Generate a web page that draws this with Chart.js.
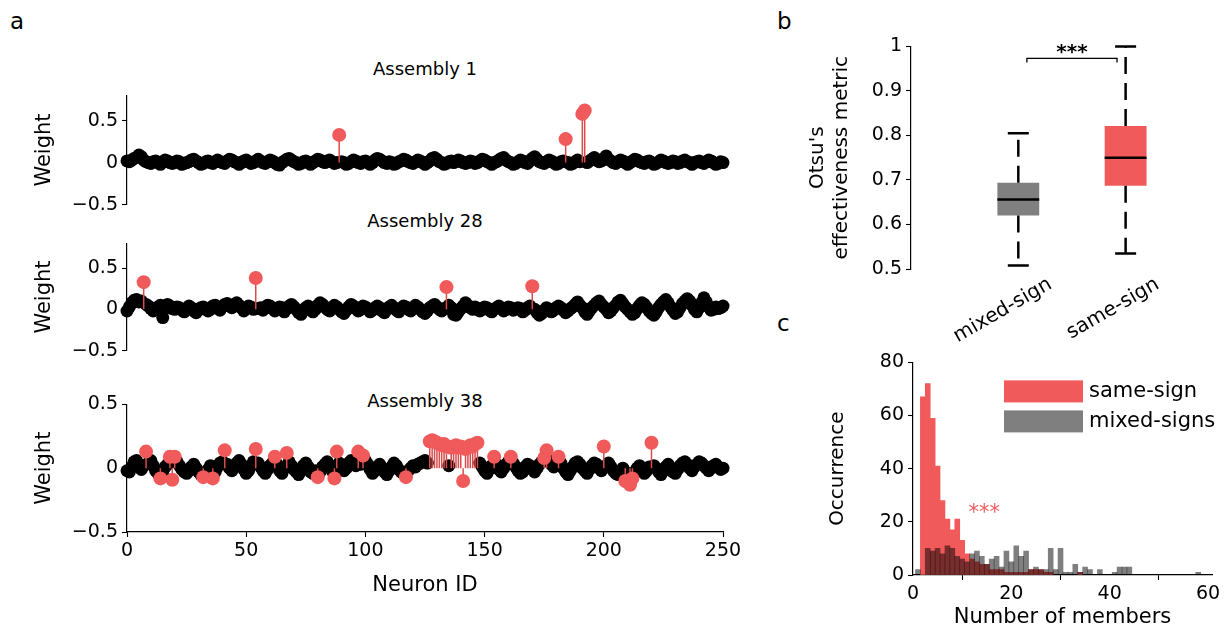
<!DOCTYPE html>
<html lang="en">
<head>
<meta charset="UTF-8">
<title>Assembly weights</title>
<script src="https://cdn.jsdelivr.net/npm/chart.js"></script>
<style>
  body { margin: 0; background: #fff; font-family: "DejaVu Sans", sans-serif; }
  #fig { position: relative; width: 1230px; height: 634px; overflow: hidden; }
  .box { position: absolute; }
  .lbl { position: absolute; color: #000; white-space: nowrap; line-height: 1; }
  .ttl { left: 225px; width: 400px; text-align: center; font-size: 18px; }
</style>
</head>
<body>
<div id="fig">
  <div class="lbl" style="left:10px;top:10px;font-size:23px">a</div>
  <div class="lbl" style="left:777px;top:10px;font-size:23px">b</div>
  <div class="lbl" style="left:777px;top:312px;font-size:23px">c</div>
  <div class="lbl ttl" style="top:60px">Assembly 1</div>
  <div class="lbl ttl" style="top:212px">Assembly 28</div>
  <div class="lbl ttl" style="top:392px">Assembly 38</div>

  <div class="box" style="left:28px;top:80px;width:732px;height:140px"><canvas id="a1"></canvas></div>
  <div class="box" style="left:28px;top:228px;width:732px;height:138px"><canvas id="a28"></canvas></div>
  <div class="box" style="left:28px;top:389px;width:732px;height:213px"><canvas id="a38"></canvas></div>
  <div class="box" style="left:802px;top:31px;width:428px;height:318px"><canvas id="otsu"></canvas></div>
  <div class="box" style="left:822px;top:347px;width:408px;height:287px"><canvas id="hist"></canvas></div>
</div>

<script>
  // ---- panel a: neuron weights per assembly (index = neuron ID) ----
  const weightsA1 = [
    0.02, 0.01, 0.03, 0.05, 0.06, 0.09, 0.07, 0.03, 0.01, 0.00, -0.01, 0.01, 0.02, 0.00, -0.02, 0.01, 0.03, 0.02, 0.00, -0.01,
    0.00, 0.02, 0.01, -0.02, -0.01, 0.00, 0.01, 0.03, 0.04, 0.02, 0.00, -0.02, -0.01, 0.01, 0.02, 0.00, -0.01, 0.01, 0.03, 0.01,
    0.00, -0.01, 0.02, 0.04, 0.03, 0.01, 0.00, -0.02, 0.00, 0.02, 0.03, 0.01, -0.01, 0.00, 0.02, 0.04, 0.02, 0.00, -0.01, 0.01,
    0.03, 0.02, 0.00, -0.02, -0.03, 0.00, 0.02, 0.04, 0.05, 0.03, 0.01, 0.00, -0.02, -0.01, 0.01, 0.02, 0.00, -0.02, 0.00, 0.02,
    0.04, 0.03, 0.01, 0.00, 0.02, 0.03, 0.01, -0.01, 0.00, 0.33, 0.01, 0.00, -0.02, -0.01, 0.01, 0.03, 0.02, 0.00, -0.01, 0.01,
    0.02, 0.00, -0.02, 0.00, 0.03, 0.05, 0.04, 0.02, 0.00, -0.01, 0.01, 0.00, -0.02, -0.01, 0.01, 0.02, 0.04, 0.03, 0.01, 0.00,
    -0.01, 0.01, 0.03, 0.02, 0.00, -0.02, 0.00, 0.02, 0.05, 0.06, 0.04, 0.01, 0.00, -0.02, -0.01, 0.01, 0.02, 0.00, 0.01, 0.03,
    0.02, 0.00, -0.01, 0.00, 0.02, 0.01, -0.01, 0.00, 0.02, 0.04, 0.03, 0.01, 0.00, -0.02, 0.00, 0.01, 0.03, 0.05, 0.06, 0.03,
    0.01, 0.00, -0.02, -0.01, 0.01, 0.03, 0.02, 0.00, -0.01, 0.02, 0.05, 0.07, 0.04, 0.01, 0.00, -0.01, 0.01, 0.03, 0.02, 0.00,
    -0.02, -0.01, 0.01, 0.02, 0.28, 0.00, -0.02, -0.01, 0.01, 0.03, 0.01, 0.58, 0.62, 0.00, 0.02, 0.04, 0.06, 0.03, 0.01, 0.02,
    0.05, 0.08, 0.04, 0.02, 0.00, -0.01, 0.01, 0.03, 0.02, 0.00, -0.02, 0.00, 0.02, 0.04, 0.03, 0.01, 0.00, -0.01, 0.01, 0.02,
    0.00, -0.02, -0.01, 0.01, 0.03, 0.02, 0.00, -0.01, 0.00, 0.02, 0.01, -0.01, 0.00, 0.02, 0.03, 0.01, 0.00, -0.02, 0.00, 0.01,
    0.02, 0.00, -0.01, 0.01, 0.03, 0.02, 0.00, -0.02, -0.01, 0.01, 0.00, 0.01
  ];
  const membersA1 = [89, 184, 191, 192];

  const weightsA28 = [
    -0.02, 0.03, 0.08, 0.11, 0.12, 0.09, 0.10, 0.33, 0.06, 0.04, 0.01, -0.02, 0.00, 0.03, 0.05, -0.10, 0.02, 0.06, 0.04, 0.01,
    0.00, 0.03, 0.02, -0.01, -0.03, 0.01, 0.04, 0.02, -0.02, -0.04, -0.01, 0.02, 0.03, 0.01, -0.02, 0.00, 0.04, 0.05, 0.02, -0.01,
    0.03, 0.06, 0.07, 0.05, 0.02, 0.06, 0.08, 0.05, 0.02, -0.02, 0.01, 0.04, 0.03, 0.00, 0.38, 0.01, 0.02, -0.01, 0.03, 0.05,
    0.04, 0.01, -0.02, 0.00, 0.03, 0.02, -0.03, 0.01, 0.04, 0.06, 0.03, 0.00, -0.04, -0.06, -0.02, 0.02, 0.04, 0.01, -0.03, 0.00,
    0.05, 0.08, 0.06, 0.03, 0.00, -0.02, 0.02, 0.05, 0.03, 0.00, -0.03, -0.05, -0.01, 0.03, 0.06, 0.04, 0.01, -0.02, 0.00, 0.04,
    0.03, 0.00, -0.03, -0.01, 0.02, 0.04, 0.02, -0.02, -0.04, 0.00, 0.03, 0.05, 0.02, -0.01, -0.03, 0.01, 0.04, 0.03, 0.00, -0.02,
    0.01, 0.05, 0.03, 0.00, -0.03, -0.05, -0.02, 0.02, 0.04, 0.06, 0.03, 0.00, -0.02, 0.01, 0.27, 0.05, 0.02, -0.06, -0.07, -0.03,
    0.01, 0.04, 0.08, 0.05, 0.02, 0.00, 0.03, 0.01, -0.02, 0.00, 0.03, 0.02, -0.01, -0.03, 0.00, 0.02, 0.04, 0.01, -0.02, 0.00,
    0.03, 0.02, -0.01, 0.00, 0.02, 0.01, -0.03, -0.01, 0.02, 0.04, 0.28, 0.00, -0.04, -0.07, -0.05, -0.01, 0.02, 0.00, -0.03, -0.01,
    0.02, 0.04, 0.02, -0.01, -0.04, -0.02, 0.01, 0.03, 0.06, 0.09, 0.05, 0.02, -0.03, -0.06, -0.02, 0.02, 0.05, 0.08, 0.10, 0.06,
    0.03, 0.00, -0.04, -0.02, 0.02, 0.05, 0.09, 0.11, 0.07, 0.03, 0.00, -0.03, -0.06, -0.04, 0.01, 0.05, 0.08, 0.06, 0.02, -0.02,
    -0.05, -0.07, -0.03, 0.02, 0.06, 0.09, 0.12, 0.08, 0.03, -0.01, -0.05, -0.03, 0.02, 0.07, 0.10, 0.13, 0.10, 0.05, 0.00, -0.03,
    0.02, 0.08, 0.14, 0.09, 0.03, -0.01, 0.00, 0.03, 0.01, 0.02, 0.04, 0.03
  ];
  const membersA28 = [7, 54, 134, 170];

  const weightsA38 = [
    -0.02, -0.03, 0.01, 0.05, 0.06, 0.03, -0.01, 0.02, 0.13, 0.04, 0.06, 0.02, -0.02, -0.04, -0.08, -0.03, 0.01, 0.03, 0.09, -0.09,
    0.09, 0.05, 0.02, -0.01, -0.03, -0.04, -0.02, 0.01, 0.03, 0.00, -0.03, -0.05, -0.07, -0.04, -0.01, 0.02, -0.08, -0.03, 0.01, 0.04,
    0.05, 0.14, 0.03, 0.00, -0.02, 0.01, 0.04, 0.06, 0.03, -0.01, -0.04, -0.02, 0.02, 0.05, 0.15, 0.04, 0.01, -0.02, -0.04, -0.01,
    0.02, 0.04, 0.09, 0.03, -0.02, -0.04, 0.00, 0.12, 0.05, 0.02, -0.01, -0.03, -0.05, -0.02, 0.02, 0.04, 0.01, -0.03, -0.04, -0.02,
    -0.07, -0.03, 0.01, 0.03, 0.05, 0.02, -0.02, -0.08, 0.13, 0.04, 0.01, -0.02, 0.00, 0.04, 0.06, 0.05, 0.02, 0.13, 0.03, 0.10,
    0.06, 0.03, -0.01, -0.04, -0.02, 0.01, 0.03, 0.00, -0.03, -0.05, -0.02, 0.01, 0.04, 0.02, -0.01, -0.03, -0.04, -0.07, -0.02, 0.00,
    0.02, 0.01, 0.03, 0.04, 0.05, 0.06, 0.04, 0.21, 0.22, 0.21, 0.20, 0.19, 0.18, 0.19, 0.17, 0.02, 0.16, 0.17, 0.18, 0.16,
    0.17, -0.10, 0.15, 0.16, 0.18, 0.17, 0.19, 0.20, 0.04, 0.01, -0.02, -0.04, -0.01, 0.02, 0.09, 0.03, -0.01, -0.03, 0.00, 0.03,
    0.05, 0.09, 0.04, 0.01, -0.02, -0.04, -0.03, 0.01, 0.03, 0.02, -0.01, -0.03, 0.00, 0.03, 0.05, 0.08, 0.14, 0.06, 0.03, 0.01,
    0.02, 0.09, 0.04, 0.00, -0.03, -0.05, -0.02, 0.01, 0.04, 0.05, 0.03, 0.00, -0.02, -0.04, -0.01, 0.02, 0.04, 0.03, 0.00, -0.02,
    0.17, 0.02, 0.04, 0.01, -0.02, -0.04, -0.05, -0.03, 0.00, -0.10, -0.04, -0.13, -0.08, -0.03, 0.00, 0.02, -0.01, -0.04, -0.02, 0.01,
    0.20, 0.02, 0.00, -0.03, -0.05, -0.02, 0.01, 0.03, 0.00, -0.03, -0.04, -0.01, 0.02, 0.04, 0.05, 0.03, 0.00, -0.02, 0.01, 0.03,
    0.05, 0.04, 0.02, 0.00, -0.02, 0.00, 0.02, 0.03, 0.01, -0.01, 0.00, 0.01
  ];
  const membersA38 = [8, 14, 18, 19, 20, 32, 36, 41, 54, 62, 67, 80, 87, 88, 97, 99, 117,
    127, 128, 129, 130, 131, 132, 133, 134, 136, 137, 138, 139, 140, 141, 142, 143, 144, 145, 146, 147,
    154, 161, 175, 176, 181, 200, 209, 211, 212, 220];

  const weightTicks = [-0.5, 0, 0.5];
  const neuronTicks = [0, 50, 100, 150, 200, 250];

  // ---- panel b: Otsu's effectiveness metric box plot ----
  const boxLabels = ['mixed-sign', 'same-sign'];
  const boxPos = [1, 2];
  const whiskerLow = [0.508, 0.535];
  const quart1 = [0.620, 0.687];
  const medians = [0.656, 0.750];
  const quart3 = [0.694, 0.821];
  const whiskerHigh = [0.805, 1.0];
  const otsuTicks = [0.5, 0.6, 0.7, 0.8, 0.9, 1.0];

  // ---- panel c: histogram of assembly sizes ----
  const memberBins = [1, 2, 3, 4, 5, 6, 7, 8, 9, 10, 11, 12, 13, 14, 15, 16, 17, 18, 19, 20,
    21, 22, 23, 24, 25, 26, 27, 28, 29, 30, 31, 32, 33, 34, 35, 36, 37, 38, 39, 40,
    41, 42, 43, 44, 45, 46, 47, 48, 49, 50, 51, 52, 53, 54, 55, 56, 57, 58];
  const sameSignOcc = [0, 67, 72, 59, 41, 28, 21, 17, 21, 13, 8, 6, 5, 4, 4, 2, 2, 2, 1, 1,
    1, 1, 1, 2, 2, 2, 1, 1, 0, 0, 0, 0, 0, 1, 0, 0, 0, 0, 0, 0,
    0, 0, 0, 0, 0, 0, 0, 0, 0, 0, 0, 0, 0, 0, 0, 0, 0, 0];
  const mixedSignOcc = [2, 0, 10, 9, 10, 8, 11, 10, 7, 6, 5, 8, 9, 7, 4, 6, 7, 3, 9, 5,
    11, 7, 9, 2, 3, 2, 2, 10, 2, 10, 1, 1, 4, 1, 3, 2, 0, 2, 0, 0,
    1, 3, 3, 3, 0, 0, 0, 0, 0, 0, 0, 0, 0, 0, 0, 0, 0, 1];
  const occTicks = [0, 20, 40, 60, 80];
  const binTicks = [0, 20, 40, 60];

  const RED = '#F05A5A';
  const GREY_T = 'rgba(0,0,0,0.5)';

  Chart.defaults.font.family = "'DejaVu Sans', sans-serif";
  Chart.defaults.font.size = 19;
  Chart.defaults.color = '#000';

  const axisGrid = { drawOnChartArea: false, drawTicks: true, tickLength: 5, color: '#000', tickColor: '#000', tickWidth: 1.1 };
  const axisBorder = { display: true, color: '#000', width: 1.2 };
  const titleFont = { size: 21 };
  const signed = v => (v < 0 ? '\u2212' + Math.abs(v) : String(v));
  const fixedTicks = list => scale => { scale.ticks = list.map(v => ({ value: v })); };

  function stemChart(id, weights, members, showX, ymin, ymax) {
    const isMember = new Set(members);
    const black = [], red = [], stems = [];
    weights.forEach((w, i) => {
      if (isMember.has(i)) {
        red.push({ x: i, y: w });
        stems.push({ x: i, y: 0 }, { x: i, y: w }, { x: i, y: null });
      } else {
        black.push({ x: i, y: w });
      }
    });
    return new Chart(document.getElementById(id), {
      type: 'scatter',
      data: {
        datasets: [
          { data: red, pointRadius: 7, pointBackgroundColor: RED, pointBorderWidth: 0, order: 0, clip: false },
          { data: stems, showLine: true, borderColor: '#D94C4C', borderWidth: 1.5, pointRadius: 0, order: 1, clip: false },
          { data: black, pointRadius: 6.5, pointBackgroundColor: '#000', pointBorderWidth: 0, order: 2, clip: false }
        ]
      },
      options: {
        responsive: true,
        maintainAspectRatio: false,
        animation: false,
        events: [],
        layout: { padding: { top: 15, bottom: showX ? 0 : 15, left: 0, right: 37 } },
        plugins: { legend: { display: false }, tooltip: { enabled: false } },
        scales: {
          x: {
            type: 'linear', min: 0, max: 250, offset: false, display: showX,
            afterBuildTicks: fixedTicks(neuronTicks),
            afterFit: s => { if (showX) s.height = 70; },
            ticks: { padding: 3, maxRotation: 0, autoSkip: false },
            grid: axisGrid, border: axisBorder,
            title: { display: true, text: 'Neuron ID', font: titleFont, padding: { top: 4, bottom: 4 } }
          },
          y: {
            min: ymin, max: ymax,
            afterBuildTicks: fixedTicks(weightTicks),
            afterFit: s => { s.width = 99; },
            ticks: { callback: signed, padding: 4 },
            grid: axisGrid, border: axisBorder,
            title: { display: true, text: 'Weight', font: titleFont, padding: { top: 4, bottom: 4 } }
          }
        }
      }
    });
  }

  stemChart('a1', weightsA1, membersA1, false, -0.5, 0.8);
  stemChart('a28', weightsA28, membersA28, false, -0.5, 0.8);
  stemChart('a38', weightsA38, membersA38, true, -0.5, 0.5);

  // ---- panel b ----
  const boxHalf = 0.195, capHalf = 0.098;
  const whiskers = [], caps = [], medLines = [];
  boxPos.forEach((p, i) => {
    whiskers.push({ x: p, y: quart3[i] }, { x: p, y: whiskerHigh[i] }, { x: p, y: null },
                  { x: p, y: quart1[i] }, { x: p, y: whiskerLow[i] }, { x: p, y: null });
    caps.push({ x: p - capHalf, y: whiskerHigh[i] }, { x: p + capHalf, y: whiskerHigh[i] }, { x: p, y: null },
              { x: p - capHalf, y: whiskerLow[i] }, { x: p + capHalf, y: whiskerLow[i] }, { x: p, y: null });
    medLines.push({ x: p - boxHalf, y: medians[i] }, { x: p + boxHalf, y: medians[i] }, { x: p, y: null });
  });

  const sigBracket = { from: 1.08, to: 1.92, y: 0.973, tip: 0.964 };

  const boxExtras = {
    id: 'boxExtras',
    afterDraw(chart) {
      const { ctx, scales: { x, y } } = chart;
      ctx.save();
      ctx.fillStyle = '#000';
      ctx.font = "20px 'DejaVu Sans'";
      ctx.textAlign = 'right';
      ctx.textBaseline = 'middle';
      boxLabels.forEach((lab, i) => {
        ctx.save();
        ctx.translate(x.getPixelForValue(boxPos[i]) + 32, y.bottom + 14);
        ctx.rotate(-Math.PI / 6);
        ctx.fillText(lab, 0, 0);
        ctx.restore();
      });
      const x1 = x.getPixelForValue(sigBracket.from), x2 = x.getPixelForValue(sigBracket.to);
      const yb = y.getPixelForValue(sigBracket.y), yt = y.getPixelForValue(sigBracket.tip);
      ctx.strokeStyle = '#000';
      ctx.lineWidth = 1.3;
      ctx.beginPath();
      ctx.moveTo(x1, yt); ctx.lineTo(x1, yb); ctx.lineTo(x2, yb); ctx.lineTo(x2, yt);
      ctx.stroke();
      ctx.font = "bold 20px 'DejaVu Sans'";
      ctx.textAlign = 'center';
      ctx.textBaseline = 'alphabetic';
      ctx.fillText('***', (x1 + x2) / 2, yb);
      ctx.restore();
    }
  };

  new Chart(document.getElementById('otsu'), {
    type: 'scatter',
    data: {
      datasets: [
        { type: 'bar', data: boxPos.map((p, i) => ({ x: p, y: [quart1[i], quart3[i]] })),
          backgroundColor: ['#808080', RED], barPercentage: 0.39, categoryPercentage: 1, grouped: false, order: 3 },
        { data: whiskers, showLine: true, borderColor: '#000', borderWidth: 2.5, borderDash: [17, 9], pointRadius: 0, order: 2, clip: false },
        { data: caps, showLine: true, borderColor: '#000', borderWidth: 2.5, pointRadius: 0, order: 1, clip: false },
        { data: medLines, showLine: true, borderColor: '#000', borderWidth: 2.5, pointRadius: 0, order: 0, clip: false }
      ]
    },
    options: {
      responsive: true,
      maintainAspectRatio: false,
      animation: false,
      events: [],
      layout: { padding: { top: 15, bottom: 80, left: 0, right: 40 } },
      plugins: { legend: { display: false }, tooltip: { enabled: false } },
      scales: {
        x: { type: 'linear', min: 0, max: 2.6, offset: false, display: false, afterBuildTicks: fixedTicks(boxPos) },
        y: {
          min: 0.5, max: 1.0, beginAtZero: false,
          afterBuildTicks: fixedTicks(otsuTicks),
          afterFit: s => { s.width = 109; },
          ticks: { callback: v => String(Number(v.toFixed(1))), padding: 4 },
          grid: axisGrid, border: axisBorder,
          title: { display: true, text: ["Otsu's", 'effectiveness metric'], font: { size: 20 }, padding: { top: 4, bottom: 4 } }
        }
      }
    },
    plugins: [boxExtras]
  });

  // ---- panel c ----
  const histStars = { x: 14.5, y: 21 };

  const histExtras = {
    id: 'histExtras',
    afterDraw(chart) {
      const { ctx, chartArea, scales: { x, y } } = chart;
      ctx.save();
      ctx.font = "21px 'DejaVu Sans'";
      ctx.fillStyle = RED;
      ctx.textAlign = 'center';
      ctx.textBaseline = 'alphabetic';
      ctx.fillText('***', x.getPixelForValue(histStars.x), y.getPixelForValue(histStars.y));
      // legend, top right inside the axes
      const left = chartArea.right - 208;
      chart.data.datasets.forEach((ds, i) => {
        const top = chartArea.top + 18 + i * 30;
        ctx.fillStyle = ds.backgroundColor;
        ctx.fillRect(left, top, 79, 22);
        ctx.fillStyle = '#000';
        ctx.textAlign = 'left';
        ctx.textBaseline = 'middle';
        ctx.fillText(ds.label, left + 85, top + 11);
      });
      ctx.restore();
    }
  };

  const histPoints = counts => memberBins
    .map((n, i) => ({ x: n, y: counts[i] }))
    .filter(p => p.y > 0);

  new Chart(document.getElementById('hist'), {
    type: 'scatter',
    data: {
      datasets: [
        { type: 'bar', label: 'same-sign', data: histPoints(sameSignOcc), backgroundColor: RED,
          barPercentage: 1, categoryPercentage: 1, grouped: false, order: 1 },
        { type: 'bar', label: 'mixed-signs', data: histPoints(mixedSignOcc), backgroundColor: GREY_T,
          barPercentage: 1, categoryPercentage: 1, grouped: false, order: 0 }
      ]
    },
    options: {
      responsive: true,
      maintainAspectRatio: false,
      animation: false,
      events: [],
      layout: { padding: { top: 15, bottom: 0, left: 0, right: 18 } },
      plugins: { legend: { display: false }, tooltip: { enabled: false } },
      scales: {
        x: {
          type: 'linear', min: 0, max: 60.8, offset: false,
          afterBuildTicks: fixedTicks(binTicks),
          afterFit: s => { s.height = 59; },
          ticks: { padding: 3, maxRotation: 0 },
          grid: axisGrid, border: axisBorder,
          title: { display: true, text: 'Number of members', font: titleFont, padding: { top: 4, bottom: 4 } }
        },
        y: {
          min: 0, max: 80,
          afterBuildTicks: fixedTicks(occTicks),
          afterFit: s => { s.width = 91; },
          ticks: { padding: 4 },
          grid: axisGrid, border: axisBorder,
          title: { display: true, text: 'Occurrence', font: { size: 20 }, padding: { top: 4, bottom: 4 } }
        }
      }
    },
    plugins: [histExtras]
  });
</script>
</body>
</html>
